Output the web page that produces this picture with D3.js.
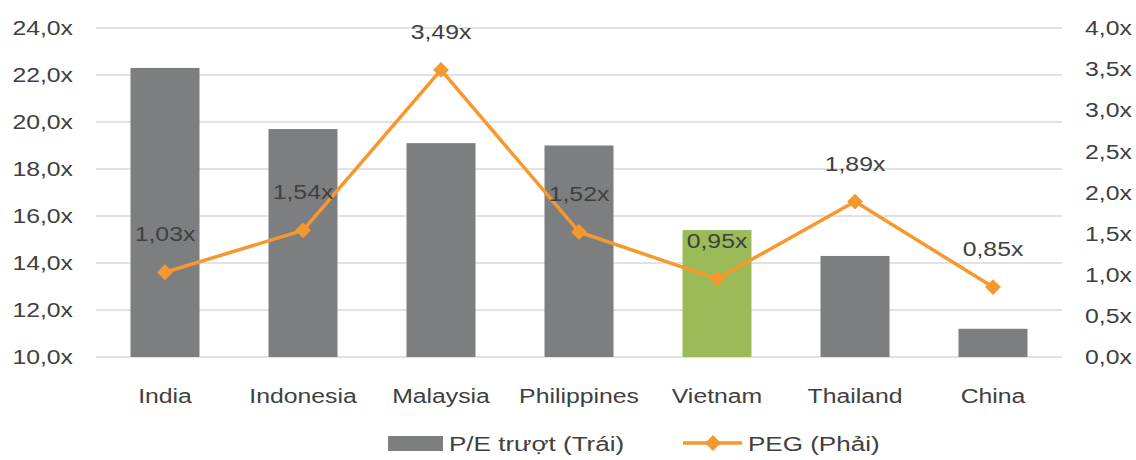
<!DOCTYPE html>
<html>
<head>
<meta charset="utf-8">
<script src="https://cdn.jsdelivr.net/npm/d3@7"></script>
<style>
  body { margin: 0; background: #fff; }
  text { font-family: "Liberation Sans", Arial, sans-serif; fill: #404040; }
</style>
</head>
<body>
<script>
// data
const categories = ["India", "Indonesia", "Malaysia", "Philippines", "Vietnam", "Thailand", "China"];
const peValues = [22.3, 19.7, 19.1, 19.0, 15.4, 14.3, 11.2];
const pegValues = [1.03, 1.54, 3.49, 1.52, 0.95, 1.89, 0.85];
const peTicks = [10, 12, 14, 16, 18, 20, 22, 24];
const pegTicks = [0, 0.5, 1, 1.5, 2, 2.5, 3, 3.5, 4];
const highlight = "Vietnam";
const legendLabels = ["P/E trượt (Trái)", "PEG (Phải)"];

const W = 1136, H = 460;
const FS = 21;
const SX = 1.18; // the source image is a bit wider than tall, stretch text to match
const grey = "#7d7e80", green = "#9bbb59", orange = "#f7982f";

var svg = d3.select("body").append("svg")
  .attr("width", W).attr("height", H);

var x = d3.scaleBand().domain(categories).range([96, 1062])
  .paddingInner(0.5).paddingOuter(0.25);
var yL = d3.scaleLinear().domain([10, 24]).range([357, 28]);
var yR = d3.scaleLinear().domain([0, 4]).range([357, 28]);

// comma decimals, "x" suffix
function fmt(p) {
  var f = d3.format("." + p + "f");
  return v => f(v).replace(".", ",") + "x";
}

function styleTicks(g) {
  g.select(".domain").remove();
  g.selectAll("text").attr("font-size", FS).attr("font-family", null)
    .attr("fill", "#404040").attr("transform", "scale(" + SX + ",1)");
}

// gridlines
svg.append("g").selectAll("line").data(peTicks).join("line")
  .attr("x1", 96).attr("x2", 1062)
  .attr("y1", d => yL(d)).attr("y2", d => yL(d))
  .attr("stroke", "#d9d9d9").attr("stroke-width", 1.3);

// left axis
svg.append("g").attr("transform", "translate(73,0)")
  .call(d3.axisLeft(yL).tickValues(peTicks).tickFormat(fmt(1)).tickSize(0).tickPadding(0))
  .call(styleTicks);

// right axis
svg.append("g").attr("transform", "translate(1085,0)")
  .call(d3.axisRight(yR).tickValues(pegTicks).tickFormat(fmt(1)).tickSize(0).tickPadding(0))
  .call(styleTicks);

// bottom categories
svg.append("g").attr("transform", "translate(0,387)")
  .call(d3.axisBottom(x).tickSize(0).tickPadding(0))
  .call(styleTicks)
  .selectAll("text").attr("dy", "0.75em");

// bars
svg.append("g").selectAll("rect").data(categories).join("rect")
  .attr("x", d => x(d))
  .attr("width", x.bandwidth())
  .attr("y", (d, i) => yL(peValues[i]))
  .attr("height", (d, i) => yL(10) - yL(peValues[i]))
  .attr("fill", d => d == highlight ? green : grey);

// PEG line
var cx = d => x(d) + x.bandwidth() / 2;
svg.append("path")
  .datum(categories)
  .attr("fill", "none").attr("stroke", orange).attr("stroke-width", 3.5)
  .attr("stroke-linejoin", "round")
  .attr("d", d3.line().x(cx).y((d, i) => yR(pegValues[i])));

var diamond = d3.symbol().type(d3.symbolDiamond2).size(160);
svg.append("g").selectAll("path").data(categories).join("path")
  .attr("d", diamond)
  .attr("transform", (d, i) => "translate(" + cx(d) + "," + yR(pegValues[i]) + ")")
  .attr("fill", orange);

// point labels
svg.append("g").selectAll("text").data(categories).join("text")
  .attr("transform", (d, i) => "translate(" + cx(d) + "," + (yR(pegValues[i]) - 31) + ") scale(" + SX + ",1)")
  .attr("text-anchor", "middle")
  .attr("font-size", FS)
  .text((d, i) => fmt(2)(pegValues[i]));

// legend
var lsx = 1.24;
var lg = svg.append("g");
lg.append("rect").attr("x", 388).attr("y", 436).attr("width", 55).attr("height", 15).attr("fill", grey);
lg.append("text").attr("transform", "translate(449,451) scale(" + lsx + ",1)")
  .attr("font-size", FS).text(legendLabels[0]);
lg.append("line").attr("x1", 683).attr("x2", 742).attr("y1", 443).attr("y2", 443)
  .attr("stroke", orange).attr("stroke-width", 3.5);
lg.append("path").attr("d", diamond).attr("transform", "translate(713,443)").attr("fill", orange);
lg.append("text").attr("transform", "translate(748,451) scale(" + lsx + ",1)")
  .attr("font-size", FS).text(legendLabels[1]);
</script>
</body>
</html>
